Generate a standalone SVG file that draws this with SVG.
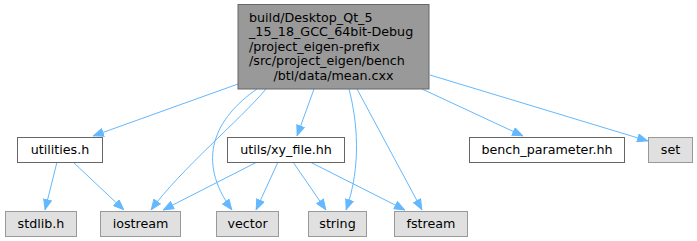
<svg xmlns="http://www.w3.org/2000/svg" width="697" height="241" viewBox="0 0 697 241">
<style>
  text { font-family: "DejaVu Sans", "Liberation Sans", sans-serif; font-size: 12.7px; fill: #000000; }
  .c { text-anchor: middle; }
  .main rect { fill: #999999; stroke: #666666; stroke-width: 1; }
  .loc rect { fill: #ffffff; stroke: #666666; stroke-width: 1; }
  .sys rect { fill: #e0e0e0; stroke: #999999; stroke-width: 1; }
  .edge { fill: none; stroke: #63b8ff; stroke-width: 1; }
</style>
<defs>
  <marker id="arrow" viewBox="0 0 11 9" refX="11" refY="4.5" markerWidth="11" markerHeight="9" markerUnits="userSpaceOnUse" orient="auto">
    <polygon points="0.5,0.5 10.5,4.5 0.5,8.5" fill="#63b8ff" stroke="#63b8ff" stroke-width="1"/>
  </marker>
</defs>
<rect width="697" height="241" fill="#ffffff"/>

<g id="connectors">
  <path class="edge" marker-end="url(#arrow)" d="M238,84 L93,136"/>
  <path class="edge" marker-end="url(#arrow)" d="M266,89 C240,120 180,170 151,210"/>
  <path class="edge" marker-end="url(#arrow)" d="M257,89 C215,118 195,160 232,210"/>
  <path class="edge" marker-end="url(#arrow)" d="M314,89 L297,136"/>
  <path class="edge" marker-end="url(#arrow)" d="M349,89 C357,120 362,165 346,210"/>
  <path class="edge" marker-end="url(#arrow)" d="M357,89 L422,210"/>
  <path class="edge" marker-end="url(#arrow)" d="M422,89 L523,136"/>
  <path class="edge" marker-end="url(#arrow)" d="M430,75 L648,141"/>
  <path class="edge" marker-end="url(#arrow)" d="M57,162 L45,210"/>
  <path class="edge" marker-end="url(#arrow)" d="M73,162 L124,210"/>
  <path class="edge" marker-end="url(#arrow)" d="M257,162 L163,210"/>
  <path class="edge" marker-end="url(#arrow)" d="M278,162 L256,210"/>
  <path class="edge" marker-end="url(#arrow)" d="M293,162 L326,210"/>
  <path class="edge" marker-end="url(#arrow)" d="M310,162 L405,210"/>
</g>

<g id="node-mean" class="main">
  <rect x="238" y="4.5" width="191" height="84.5"/>
  <text x="249" y="21.5">build/Desktop_Qt_5</text>
  <text x="249" y="36">_15_18_GCC_64bit-Debug</text>
  <text x="249" y="50.5">/project_eigen-prefix</text>
  <text x="249" y="65">/src/project_eigen/bench</text>
  <text class="c" x="333.5" y="79.5">/btl/data/mean.cxx</text>
</g>

<g id="node-utilities" class="loc">
  <rect x="17.5" y="137.5" width="85" height="25"/>
  <text class="c" x="60" y="154">utilities.h</text>
</g>
<g id="node-xy-file" class="loc">
  <rect x="227.5" y="137.5" width="117" height="25"/>
  <text class="c" x="286" y="154">utils/xy_file.hh</text>
</g>
<g id="node-bench-parameter" class="loc">
  <rect x="469.5" y="137.5" width="155" height="25"/>
  <text class="c" x="547" y="154">bench_parameter.hh</text>
</g>
<g id="node-set" class="sys">
  <rect x="648.5" y="137.5" width="44" height="25"/>
  <text class="c" x="670.5" y="154">set</text>
</g>

<g id="node-stdlib" class="sys">
  <rect x="5.5" y="211.5" width="71" height="25"/>
  <text class="c" x="41" y="228">stdlib.h</text>
</g>
<g id="node-iostream" class="sys">
  <rect x="100.5" y="211.5" width="80" height="25"/>
  <text class="c" x="140.5" y="228">iostream</text>
</g>
<g id="node-vector" class="sys">
  <rect x="216.5" y="211.5" width="62" height="25"/>
  <text class="c" x="247.5" y="228">vector</text>
</g>
<g id="node-string" class="sys">
  <rect x="308.5" y="211.5" width="58" height="25"/>
  <text class="c" x="337.5" y="228">string</text>
</g>
<g id="node-fstream" class="sys">
  <rect x="394.5" y="211.5" width="73" height="25"/>
  <text class="c" x="431" y="228">fstream</text>
</g>
</svg>
